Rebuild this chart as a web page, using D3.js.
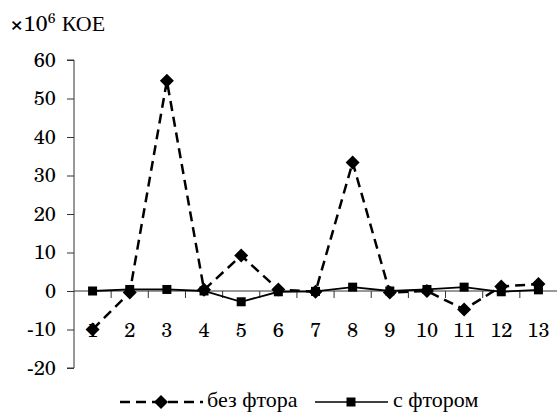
<!DOCTYPE html>
<html><head><meta charset="utf-8">
<script src="https://cdn.jsdelivr.net/npm/d3@7"></script>
</head>
<body style="margin:0">
<svg id="c" width="557" height="412"></svg>
<script>
const categories = ["1","2","3","4","5","6","7","8","9","10","11","12","13"];
const bezFtora = [-10, -0.4, 54.6, 0.3, 9.2, 0.4, -0.2, 33.4, -0.4, 0, -4.8, 1.2, 1.8];
const sFtorom  = [0, 0.4, 0.4, 0, -2.8, -0.2, -0.1, 1.0, 0, 0.4, 1.0, -0.2, 0.3];
const yTicks = [-20, -10, 0, 10, 20, 30, 40, 50, 60];
const seriesNames = ["без фтора", "с фтором"];

const TF = '"TeX Gyre Schola"';
const LF = '"Liberation Serif"';
const svg = d3.select("#c");
const x = d3.scaleBand().domain(categories).range([74, 557]).paddingInner(0).paddingOuter(0);
const y = d3.scaleLinear().domain([-20, 60]).range([368, 60]);

// Y axis
const yAxis = d3.axisLeft(y).tickValues(yTicks).tickSize(7).tickPadding(11).tickFormat(d => String(d));
const gy = svg.append("g").attr("transform", "translate(74,0)").call(yAxis);
gy.select(".domain").attr("stroke", "#333").attr("stroke-width", 1).attr("d", `M-7,${y(60)}H0V${y(-20)}H-7`);
gy.selectAll(".tick line").attr("stroke", "#333");
gy.selectAll(".tick text").style("font-family", TF).style("font-size", "20px").attr("fill", "#000");

// X axis at zero
const gx = svg.append("g").attr("transform", `translate(0,${y(0)})`);
gx.append("line").attr("x1", 74).attr("x2", 557).attr("y1", 0).attr("y2", 0).attr("stroke", "#333").attr("stroke-width", 1);
gx.selectAll("line.t").data(categories.slice(1)).join("line").attr("class","t")
  .attr("x1", d => x(d)).attr("x2", d => x(d)).attr("y1", 0).attr("y2", 7)
  .attr("stroke", "#333").attr("stroke-width", 1);
gx.selectAll("text").data(categories).join("text")
  .attr("x", d => x(d) + x.bandwidth()/2).attr("y", 46)
  .attr("text-anchor", "middle").style("font-family", TF).style("font-size", "20px").text(d => d);

// Title
const t = svg.append("text").attr("x", 10).attr("y", 31).style("font-family", TF).style("font-size", "22px");
t.append("tspan").text("×10");
t.append("tspan").attr("dy", -8).style("font-size", "14px").text("6");
t.append("tspan").attr("dy", 8).text(" КОЕ");

const cx = (d, i) => x(categories[i]) + x.bandwidth()/2;
const line = d3.line().x((d,i) => cx(d,i)).y(d => y(d));
function diamondPath(s){ return `M0,${-s}L${s},0L0,${s}L${-s},0Z`; }

// series 1 dashed diamonds
svg.append("path").datum(bezFtora).attr("d", line).attr("fill","none").attr("stroke","#000")
  .attr("stroke-width", 2.5).attr("stroke-dasharray", "10,6");
svg.selectAll("path.dm").data(bezFtora).join("path").attr("class","dm")
  .attr("transform", (d,i) => `translate(${cx(d,i)},${y(d)})`).attr("d", diamondPath(7)).attr("fill", "#000");

// series 2 solid squares
svg.append("path").datum(sFtorom).attr("d", line).attr("fill","none").attr("stroke","#000").attr("stroke-width", 1.8);
svg.selectAll("rect.sq").data(sFtorom).join("rect").attr("class","sq")
  .attr("x", (d,i) => cx(d,i) - 4.5).attr("y", d => y(d) - 4.5).attr("width", 9).attr("height", 9).attr("fill", "#000");

// Legend
const ly = 402;
const lg = svg.append("g");
lg.append("line").attr("x1", 120).attr("x2", 203).attr("y1", ly).attr("y2", ly)
  .attr("stroke","#000").attr("stroke-width", 2.5).attr("stroke-dasharray", "10,6");
lg.append("path").attr("transform", `translate(161,${ly})`).attr("d", diamondPath(7)).attr("fill","#000");
lg.append("text").attr("x", 207).attr("y", ly + 5).style("font-family", LF).style("font-size", "22px").text(seriesNames[0]);
lg.append("line").attr("x1", 315).attr("x2", 388).attr("y1", ly).attr("y2", ly).attr("stroke","#000").attr("stroke-width", 1.5);
lg.append("rect").attr("x", 351-4.5).attr("y", ly-4.5).attr("width", 9).attr("height", 9).attr("fill","#000");
lg.append("text").attr("x", 393).attr("y", ly + 5).style("font-family", LF).style("font-size", "22px").text(seriesNames[1]);
</script>
</body></html>
